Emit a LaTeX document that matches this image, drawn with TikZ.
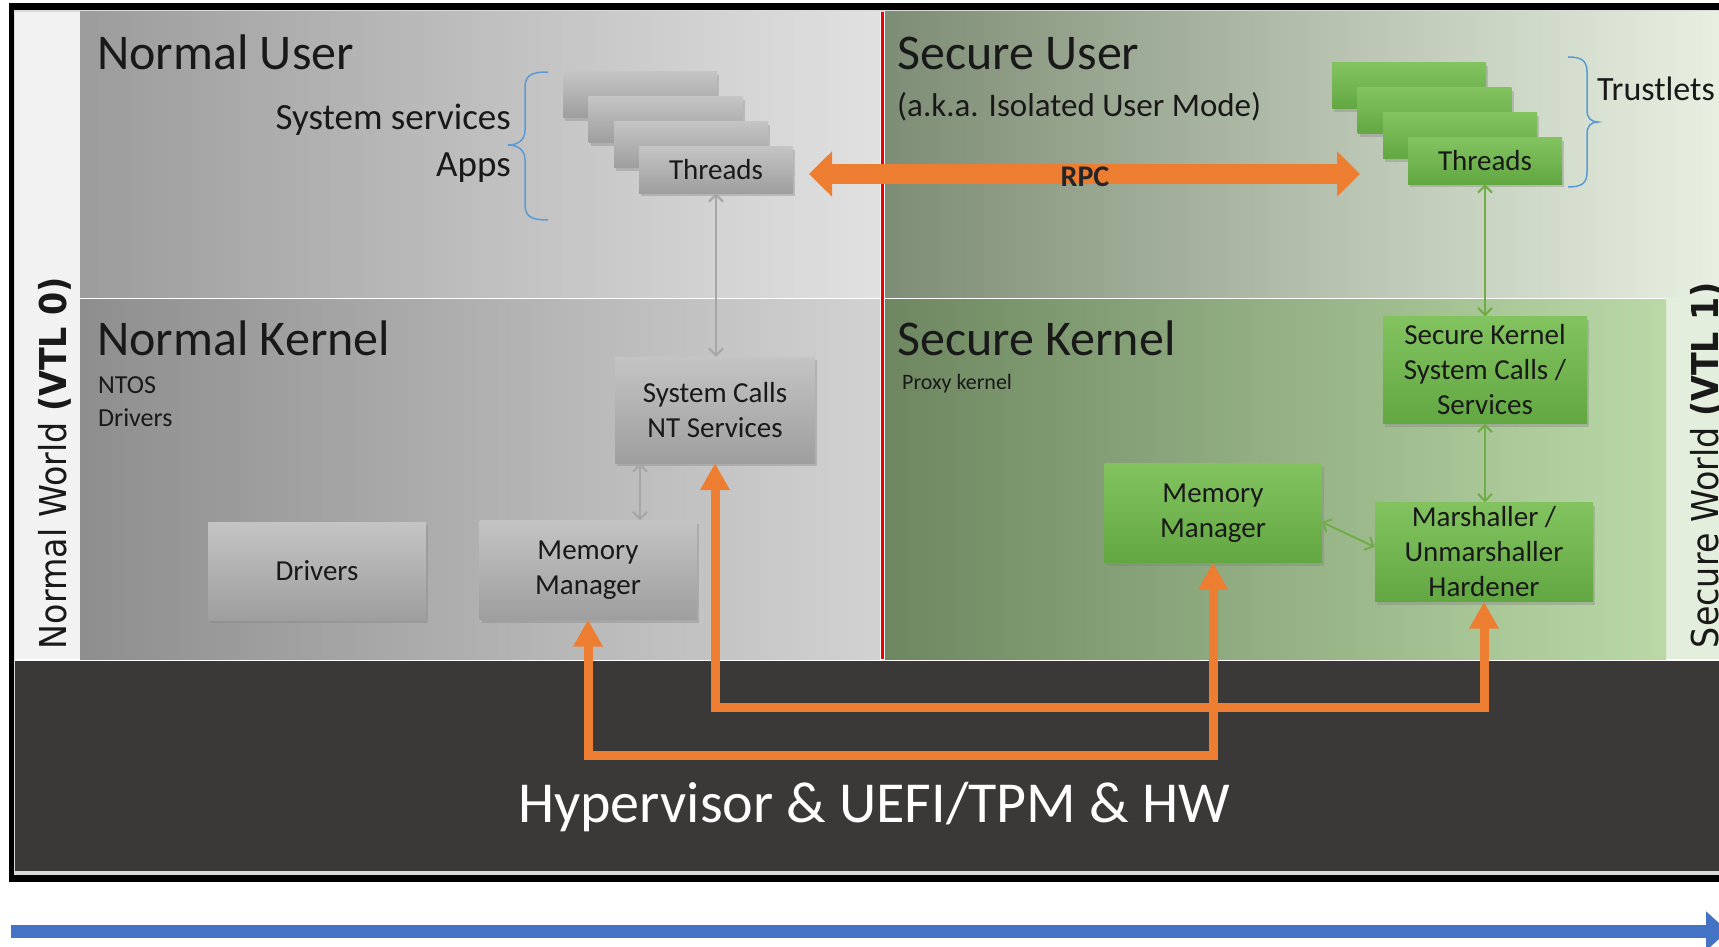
\documentclass[tikz,border=0pt]{standalone}
\usepackage{fontspec}
\setmainfont{Carlito}
\newfontfamily\worldfont{DejaVu Sans}[FakeStretch=0.9]
\usetikzlibrary{arrows.meta,shadows}

\definecolor{nuL}{HTML}{9C9C9C}
\definecolor{nuM}{HTML}{C9C9C9}
\definecolor{nuR}{HTML}{E1E1E1}
\definecolor{nkL}{HTML}{8E8E8E}
\definecolor{nkM}{HTML}{BABABA}
\definecolor{nkR}{HTML}{D2D2D2}
\definecolor{suL}{HTML}{7E8D75}
\definecolor{suM}{HTML}{C2D1B8}
\definecolor{suR}{HTML}{EAF2E4}
\definecolor{skL}{HTML}{6E8761}
\definecolor{skM}{HTML}{9DBD8B}
\definecolor{skR}{HTML}{BAD9A7}
\definecolor{sidegreen}{HTML}{E4EEDC}
\definecolor{sidegrey}{HTML}{F2F2F2}
\definecolor{hwdark}{HTML}{3B3838}
\definecolor{gbtop}{HTML}{C4C4C4}
\definecolor{gbbot}{HTML}{9E9E9E}
\definecolor{gntop}{HTML}{82C360}
\definecolor{gnbot}{HTML}{62A742}
\definecolor{linkgrey}{HTML}{A6A6A6}
\definecolor{linkgreen}{HTML}{70AD47}
\definecolor{hvorange}{HTML}{ED7D31}
\definecolor{bracket}{HTML}{5B9BD5}
\definecolor{timeblue}{HTML}{4472C4}
\definecolor{splitred}{HTML}{EE0000}

\tikzset{
  greybox/.style={top color=gbtop, bottom color=gbbot, align=center, inner sep=0pt,
    font=\fontsize{29}{35}\selectfont, text=black!90,
    drop shadow={opacity=0.35, shadow xshift=2pt, shadow yshift=-3pt}},
  greenbox/.style={greybox, top color=gntop, bottom color=gnbot},
  threadbox/.style={minimum width=154pt, minimum height=46pt},
  thinlink/.style={line width=2pt, {Straight Barb[length=7pt,width=14pt]}-{Straight Barb[length=7pt,width=14pt]}},
  hvlink/.style={draw=hvorange, line width=9pt, {Triangle[length=27pt,width=28pt]}-{Triangle[length=27pt,width=28pt]}},
  bigtitle/.style={anchor=base west, font=\fontsize{50}{60}\selectfont, text=black!90, inner sep=0pt},
  smalltext/.style={anchor=base west, font=\fontsize{#1}{#1}\selectfont, text=black!90, inner sep=0pt},
  worldlabel/.style={rotate=90, anchor=base, font=\worldfont\fontsize{37}{44}\selectfont, text=black!90, inner sep=0pt},
}

\begin{document}
\begin{tikzpicture}[x=1pt,y=-1pt]
\useasboundingbox (0,0) rectangle (1719,947);
\clip (0,0) rectangle (1719,947);
\fill[white] (0,0) rectangle (1719,947);
\fill[black] (9,3) rectangle (1740,882);
\fill[black!15] (14,10) rectangle (1740,875);
\fill[white] (15,12) rectangle (1740,661);
\fill[sidegrey] (15,12) rectangle (80,659);
\fill[sidegreen] (1666,297) rectangle (1740,659);
\shade[left color=nuL, middle color=nuM, right color=nuR] (80,12) rectangle (880,297);
\shade[left color=nkL, middle color=nkM, right color=nkR] (80,299) rectangle (880,659);
\shade[left color=suL, middle color=suM, right color=suR] (885,12) rectangle (1740,297);
\shade[left color=skL, middle color=skM, right color=skR] (885,299) rectangle (1666,659);
\fill[hwdark] (15,661) rectangle (1740,871);
\draw[splitred, line width=3pt] (882,12) -- (882,659);

\node[bigtitle] (nutitle) at (97,70) {Normal User};
\node[bigtitle] (sutitle) at (897,70) {Secure User};
\node[smalltext=33] (iumtitle) at (897,117) {(a.k.a. Isolated User Mode)};
\node[bigtitle] (nktitle) at (97,355) {Normal Kernel};
\node[bigtitle] (sktitle) at (897,355) {Secure Kernel};
\node[smalltext=26] (ntos) at (98,393) {NTOS};
\node[smalltext=26] (ndrvtext) at (98,426) {Drivers};
\node[smalltext=22] (proxy) at (902,389) {Proxy kernel};
\node[smalltext=37, anchor=base east] (svc) at (511,130) {System services};
\node[smalltext=37, anchor=base east] (apps) at (511,176) {Apps};
\node[smalltext=34] (trust) at (1597,101) {Trustlets};
\node[worldlabel] (nworld) at (66,463) {Normal World \textbf{(VTL 0)}};
\node[worldlabel] (sworld) at (1718,465) {Secure World \textbf{(VTL 1)}};
\node[anchor=base, font=\fontsize{58}{70}\selectfont, text=white, inner sep=0pt] (hw) at (874,822) {Hypervisor \& UEFI/TPM \& HW};

\draw[bracket, line width=1.5pt] (548,72) .. controls (530,72) and (525,76) .. (525,88) -- (525,130) .. controls (525,140) and (518,145) .. (508,145) .. controls (518,145) and (525,150) .. (525,160) -- (525,204) .. controls (525,216) and (530,220) .. (548,220);
\draw[bracket, line width=1.5pt] (1568,57) .. controls (1582,57) and (1587,61) .. (1587,72) -- (1587,110) .. controls (1587,118) and (1591,122) .. (1598,122) .. controls (1591,122) and (1587,126) .. (1587,134) -- (1587,172) .. controls (1587,183) and (1582,187) .. (1568,187);

\foreach \i in {0,1,2} {
  \node[greybox, threadbox] (nthr\i) at ({640+25.5*\i},{95+25*\i}) {};
  \node[greenbox, threadbox] (sthr\i) at ({1409+25.5*\i},{86+25*\i}) {};
}
\node[greybox, threadbox] (nthr) at (716,170) {Threads};
\node[greenbox, threadbox] (sthr) at (1485,161) {Threads};

\node[greybox, minimum width=200pt, minimum height=106pt] (nsys) at (715,410) {System Calls\\NT Services};
\node[greybox, minimum width=218pt, minimum height=98pt] (ndrv) at (317,571) {Drivers};
\node[greybox, minimum width=217pt, minimum height=99pt] (nmem) at (588,570) {Memory\\Manager};
\node[greenbox, minimum width=204pt, minimum height=107pt] (ssys) at (1485,370) {Secure Kernel\\System Calls /\\Services};
\node[greenbox, minimum width=217pt, minimum height=99pt] (smem) at (1213,513) {Memory\\Manager};
\node[greenbox, minimum width=218pt, minimum height=99pt] (smar) at (1484,552) {Marshaller /\\Unmarshaller\\Hardener};

\draw[thinlink, linkgrey] (nthr.south) -- (nthr.south |- nsys.north);
\draw[thinlink, linkgrey] ([xshift=-75pt]nsys.south) -- ([xshift=-75pt]nsys.south |- nmem.north);
\draw[thinlink, linkgreen] (sthr.south) -- (sthr.south |- ssys.north);
\draw[thinlink, linkgreen] (ssys.south) -- (ssys.south |- smar.north);
\draw[thinlink, linkgreen] ([yshift=-9pt]smem.east) -- ([yshift=5pt]smar.west);

\coordinate (rpcl) at (809,174);
\coordinate (rpcr) at (1360,174);
\draw[draw=hvorange, line width=20pt, {Triangle[length=23pt,width=44pt]}-{Triangle[length=23pt,width=44pt]}] (rpcl) -- (rpcr);
\node[font=\bfseries\fontsize{30}{36}\selectfont, text=black!85] (rpc) at (1085,177) {RPC};

\coordinate (busa) at (0,707);
\coordinate (busb) at (0,755);
\draw[hvlink] (nmem.south) -- (nmem.south |- busb) -- (smem.south |- busb) -- (smem.south);
\draw[hvlink] (nsys.south) -- (nsys.south |- busa) -- (smar.south |- busa) -- (smar.south);

\coordinate (tstart) at (11,931);
\coordinate (tend) at (1728,931);
\draw[timeblue, line width=13pt, -{Triangle[length=22pt,width=38pt]}] (tstart) -- (tend);
\end{tikzpicture}
\end{document}
